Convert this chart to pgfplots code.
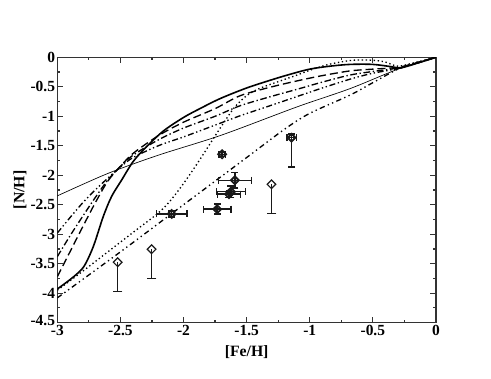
\documentclass[border=0pt]{standalone}
\usepackage{fontspec}
\setmainfont{Liberation Serif}
\usepackage{pgfplots}
\pgfplotsset{compat=1.18}
\begin{document}
\begin{tikzpicture}
\path[use as bounding box] (-43pt,-42.2pt) rectangle (325.3pt,242pt);
\begin{axis}[
  at={(0pt,0pt)}, anchor=south west,
  scale only axis, width=284pt, height=199pt,
  xmin=-3, xmax=0, ymin=-4.5, ymax=0,
  xtick={-3,-2.5,-2,-1.5,-1,-0.5,0},
  xticklabels={-3,-2.5,-2,-1.5,-1,-0.5,0},
  ytick={-4.5,-4,-3.5,-3,-2.5,-2,-1.5,-1,-0.5,0},
  yticklabels={\raisebox{4pt}{-4.5},-4,-3.5,-3,-2.5,-2,-1.5,-1,-0.5,0},
  minor x tick num=1, minor y tick num=1,
  tick align=inside,
  major tick length=4.5pt, minor tick length=2.3pt,
  axis line style={line width=1.1pt, draw=black!80},
  every tick/.style={line width=0.9pt, black!80},
  tick label style={font=\fontsize{11.6}{13}\selectfont\bfseries},
  xticklabel style={inner sep=2pt},
  yticklabel style={inner sep=1.5pt},
  xlabel={[Fe/H]}, ylabel={[N/H]},
  label style={font=\fontsize{11.8}{13}\selectfont\bfseries},
  xlabel style={at={(axis description cs:0.5,0)}, anchor=center, yshift=-21.75pt},
  ylabel style={at={(axis description cs:-0.0986,0.5)}, anchor=center},
  clip=true,
]
% thick solid
\addplot[black, line width=1.2pt, smooth] coordinates {
(-3,-3.93) (-2.93,-3.82) (-2.87,-3.72) (-2.79,-3.55) (-2.715,-3.21) (-2.636,-2.70)
(-2.57,-2.36) (-2.49,-2.08) (-2.40,-1.77) (-2.3,-1.53) (-2.16,-1.25) (-2.0,-1.02)
(-1.87,-0.87) (-1.71,-0.70) (-1.5,-0.52) (-1.3,-0.38) (-1.16,-0.29) (-1.0,-0.2)
(-0.84,-0.15) (-0.68,-0.12) (-0.5,-0.12) (-0.35,-0.16) (-0.28,-0.18) (-0.15,-0.1) (0,0)};
% long dash
\addplot[black, line width=1pt, dash pattern=on 6pt off 3pt, smooth] coordinates {
(-3,-3.72) (-2.9,-3.3) (-2.8,-2.88) (-2.7,-2.47) (-2.6,-2.1) (-2.5,-1.85) (-2.4,-1.63)
(-2.2,-1.33) (-2.0,-1.1) (-1.75,-0.87) (-1.55,-0.65) (-1.3,-0.5) (-1.08,-0.39)
(-0.9,-0.31) (-0.68,-0.23) (-0.5,-0.2) (-0.3,-0.17) (-0.15,-0.09) (0,0)};
% dash dot
\addplot[black, line width=1pt, dash pattern=on 5pt off 2pt on 1pt off 2pt, smooth] coordinates {
(-3,-3.38) (-2.9,-3.03) (-2.8,-2.7) (-2.7,-2.38) (-2.6,-2.08) (-2.5,-1.85) (-2.4,-1.66)
(-2.2,-1.4) (-2.0,-1.2) (-1.75,-1.0) (-1.55,-0.82) (-1.3,-0.66) (-1.08,-0.53)
(-0.9,-0.42) (-0.68,-0.30) (-0.5,-0.24) (-0.3,-0.18) (-0.15,-0.09) (0,0)};
% dash dot dot (upper)
\addplot[black, line width=1pt, dash pattern=on 4.5pt off 2pt on 1pt off 2pt on 1pt off 2pt, smooth] coordinates {
(-3,-2.98) (-2.9,-2.72) (-2.8,-2.47) (-2.7,-2.25) (-2.6,-2.05) (-2.5,-1.86) (-2.4,-1.7)
(-2.2,-1.5) (-2.0,-1.35) (-1.75,-1.15) (-1.55,-0.99) (-1.3,-0.81) (-1.08,-0.65)
(-0.9,-0.52) (-0.68,-0.37) (-0.5,-0.27) (-0.3,-0.19) (-0.15,-0.1) (0,0)};
% thin solid
\addplot[black, line width=0.5pt, smooth] coordinates {
(-3,-2.35) (-2.6,-1.97) (-2.2,-1.66) (-1.7,-1.32) (-1.1,-0.84) (-0.68,-0.53) (-0.3,-0.2) (0,0)};
% dotted
\addplot[black, line width=1pt, dash pattern=on 1pt off 2pt, smooth] coordinates {
(-3,-3.95) (-2.8,-3.63) (-2.6,-3.3) (-2.4,-2.97) (-2.2,-2.64) (-2.1,-2.42) (-2.0,-2.14)
(-1.9,-1.83) (-1.8,-1.5) (-1.7,-1.17) (-1.6,-0.86) (-1.5,-0.65) (-1.4,-0.53) (-1.26,-0.42)
(-1.1,-0.3) (-1.0,-0.22) (-0.85,-0.12) (-0.66,-0.05) (-0.5,-0.05) (-0.4,-0.08) (-0.3,-0.15)
(-0.15,-0.08) (0,0)};
% dash dot dot (lower)
\addplot[black, line width=1pt, dash pattern=on 4pt off 2.5pt on 1pt off 2.5pt on 1pt off 2.5pt, smooth] coordinates {
(-3,-4.08) (-2.5,-3.3) (-2.0,-2.5) (-1.5,-1.7) (-1.2,-1.22) (-1.0,-0.95) (-0.68,-0.64)
(-0.5,-0.43) (-0.3,-0.2) (-0.15,-0.1) (0,0)};
% upper limits
\addplot[only marks, mark=square, mark size=2.3pt,
  mark options={rotate=45, solid, fill=white, draw=black!90, line width=0.9pt},
  error bars/.cd, y dir=minus, y explicit,
  error bar style={line width=1.1pt, black!90, solid},
  error mark options={rotate=90, mark size=3.6pt, line width=1.1pt, black!90}]
  table[x=x, y=y, y error minus=eym] {
x y eym
-2.522 -3.475 0.5
-2.253 -3.254 0.5
-1.303 -2.153 0.5
};
% points with both errors
\addplot[only marks, mark=square, mark size=2.3pt,
  mark options={rotate=45, solid, fill=white, draw=black!90, line width=0.9pt},
  error bars/.cd, y dir=both, y explicit, x dir=both, x explicit,
  error bar style={line width=1.1pt, black!90, solid},
  error mark options={rotate=90, mark size=2.6pt, line width=1.1pt, black!90}]
  table[x=x, y=y, x error=ex, y error plus=eyp, y error minus=eym] {
x y ex eyp eym
-2.094 -2.656 0.12 0.05 0.05
-1.694 -1.644 0.025 0.04 0.04
-1.593 -2.085 0.13 0.13 0.13
-1.625 -2.28 0.115 0.1 0.1
-1.64 -2.32 0.09 0.06 0.06
-1.733 -2.576 0.11 0.085 0.085
-1.144 -1.363 0.037 0.06 0.5
};
\addplot[only marks, mark=o, mark size=2pt, mark options={draw=black!90, line width=0.9pt}]
  table[x=x, y=y] {
x y
-2.094 -2.656
-1.694 -1.644
-1.593 -2.085
-1.625 -2.28
-1.64 -2.32
-1.733 -2.576
-1.144 -1.363
};
\end{axis}
\end{tikzpicture}
\end{document}
